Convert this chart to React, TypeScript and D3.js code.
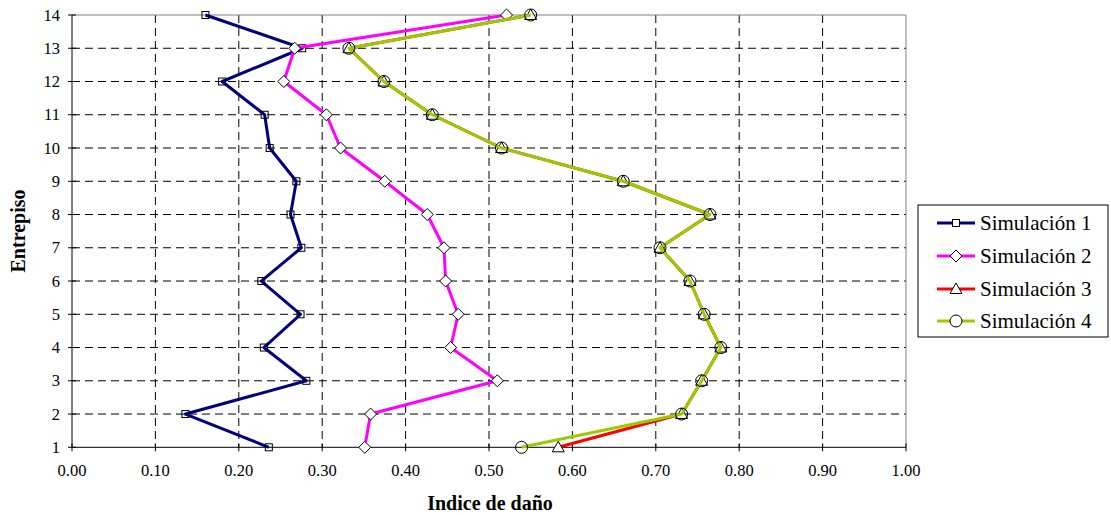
import React from "react";
import * as d3 from "d3";

const stories = [1, 2, 3, 4, 5, 6, 7, 8, 9, 10, 11, 12, 13, 14];
const sim1 = [0.236, 0.136, 0.281, 0.230, 0.274, 0.227, 0.275, 0.262, 0.269, 0.237, 0.231, 0.180, 0.276, 0.160];
const sim2 = [0.351, 0.358, 0.510, 0.454, 0.463, 0.448, 0.446, 0.426, 0.375, 0.322, 0.305, 0.254, 0.267, 0.521];
const sim3 = [0.583, 0.731, 0.755, 0.778, 0.758, 0.741, 0.705, 0.765, 0.661, 0.515, 0.432, 0.374, 0.332, 0.550];
const sim4 = [0.539, 0.731, 0.755, 0.778, 0.758, 0.741, 0.705, 0.765, 0.661, 0.515, 0.432, 0.374, 0.332, 0.550];
const seriesNames = ["Simulación 1", "Simulación 2", "Simulación 3", "Simulación 4"];
const xTicks = [0, 0.1, 0.2, 0.3, 0.4, 0.5, 0.6, 0.7, 0.8, 0.9, 1.0];
const xTitle = "Indice de daño";
const yTitle = "Entrepiso";

const W = 1111, H = 515;
const L = 72, R = 906, T = 15, B = 447.3;
const FONT = "Liberation Serif, DejaVu Serif, serif";

type Shape = "square" | "diamond" | "triangle" | "circle";
const styles: { color: string; shape: Shape; fill: string }[] = [
  { color: "#000080", shape: "square", fill: "none" },
  { color: "#FF00FF", shape: "diamond", fill: "#ffffff" },
  { color: "#FF0000", shape: "triangle", fill: "#ffffff" },
  { color: "#99CC00", shape: "circle", fill: "none" },
];

function Marker({ shape, x, y, fill }: { shape: Shape; x: number; y: number; fill: string }) {
  const common = { fill, stroke: "#000", strokeWidth: 1 };
  if (shape === "square") return <rect x={x - 3.5} y={y - 3.5} width={7} height={7} {...common} />;
  if (shape === "diamond")
    return <path d={`M${x},${y - 6}L${x + 6},${y}L${x},${y + 6}L${x - 6},${y}Z`} {...common} />;
  if (shape === "triangle")
    return <path d={`M${x},${y - 6}L${x + 6},${y + 4.5}L${x - 6},${y + 4.5}Z`} {...common} />;
  return <circle cx={x} cy={y} r={6} {...common} />;
}

const txt = { fontFamily: FONT } as React.CSSProperties;

export default function App() {
  const x = d3.scaleLinear().domain([0, 1]).range([L, R]);
  const y = d3.scaleLinear().domain([1, 14]).range([B, T]);
  const all = [sim1, sim2, sim3, sim4];
  const line = d3
    .line<[number, number]>()
    .x((d) => x(d[0]))
    .y((d) => y(d[1]));

  const legendX = 918, legendY = 205, legendW = 190, legendH = 132;
  const legendRows = [223, 256, 289, 321];

  return (
    <svg
      width={W}
      height={H}
      style={{ position: "absolute", left: 0, top: 0, background: "#fff", fontFamily: FONT }}
    >
      {xTicks.slice(1, -1).map((t) => (
        <line key={"gx" + t} x1={x(t)} x2={x(t)} y1={T} y2={B} stroke="#000" strokeWidth={1} strokeDasharray="8,5" />
      ))}
      {stories.slice(1, -1).map((s) => (
        <line key={"gy" + s} x1={L} x2={R} y1={y(s)} y2={y(s)} stroke="#000" strokeWidth={1} strokeDasharray="8,5" />
      ))}
      <line x1={L} x2={R} y1={T} y2={T} stroke="#808080" strokeWidth={1} />
      <line x1={R} x2={R} y1={T} y2={B} stroke="#808080" strokeWidth={1} />
      <line x1={L} x2={L} y1={T} y2={B} stroke="#000" strokeWidth={1} />
      <line x1={L} x2={R} y1={B} y2={B} stroke="#000" strokeWidth={1} />
      {xTicks.map((t) => (
        <g key={"xt" + t}>
          <line x1={x(t)} x2={x(t)} y1={B - 4} y2={B + 4} stroke="#000" />
          <text x={x(t)} y={476} fontSize={16.5} textAnchor="middle" fill="#000" style={txt}>
            {t.toFixed(2)}
          </text>
        </g>
      ))}
      {stories.map((s) => (
        <g key={"yt" + s}>
          <line x1={L - 4} x2={L + 4} y1={y(s)} y2={y(s)} stroke="#000" />
          <text x={60} y={y(s) + 5.5} fontSize={16.5} textAnchor="end" fill="#000" style={txt}>
            {s}
          </text>
        </g>
      ))}
      <text x={490} y={510} fontSize={20} fontWeight="bold" textAnchor="middle" fill="#000" style={txt}>
        {xTitle}
      </text>
      <text
        transform={`translate(25,${231}) rotate(-90)`}
        fontSize={20}
        fontWeight="bold"
        textAnchor="middle"
        fill="#000"
        style={txt}
      >
        {yTitle}
      </text>
      {all.map((vals, i) => {
        const pts: [number, number][] = vals.map((v, j) => [v, stories[j]]);
        return (
          <g key={"s" + i}>
            <path d={line(pts) || ""} fill="none" stroke={styles[i].color} strokeWidth={3} strokeLinejoin="round" />
            {pts.map((p, j) => (
              <Marker key={j} shape={styles[i].shape} x={x(p[0])} y={y(p[1])} fill={styles[i].fill} />
            ))}
          </g>
        );
      })}
      <rect x={legendX} y={legendY} width={legendW} height={legendH} fill="#fff" stroke="#000" strokeWidth={1} />
      {seriesNames.map((n, i) => (
        <g key={"lg" + i}>
          <line x1={937} x2={975} y1={legendRows[i]} y2={legendRows[i]} stroke={styles[i].color} strokeWidth={3} />
          <Marker shape={styles[i].shape} x={956} y={legendRows[i]} fill="#ffffff" />
          <text x={980} y={legendRows[i] + 7} fontSize={21} fill="#000" style={txt}>
            {n}
          </text>
        </g>
      ))}
    </svg>
  );
}
